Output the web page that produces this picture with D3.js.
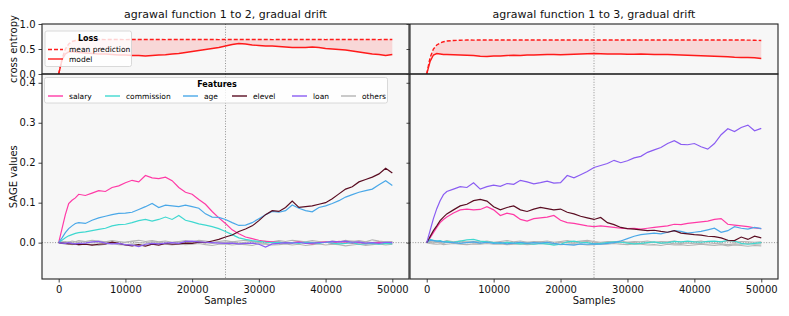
<!DOCTYPE html>
<html>
<head>
<meta charset="utf-8">
<script src="https://cdn.jsdelivr.net/npm/d3@7"></script>
<style>
  body { margin: 0; background: #fff; }
  svg text { font-family: "DejaVu Sans", sans-serif; }
</style>
</head>
<body>
<svg id="chart" width="789" height="316"></svg>
<script>
// sample positions shared by every series
var samples = [0, 500, 1000, 1500, 2000, 2500, 3000, 4000, 5000, 6000, 7000, 8000, 9000, 10000,
  11000, 12000, 13000, 14000, 15000, 16000, 17000, 18000, 19000, 20000, 21000, 22000, 23000, 24000,
  25000, 26000, 27000, 28000, 29000, 30000, 31000, 32000, 33000, 34000, 35000, 36000, 37000, 38000,
  39000, 40000, 41000, 42000, 43000, 44000, 45000, 46000, 47000, 48000, 49000, 50000];

var titles = ["agrawal function 1 to 2, gradual drift", "agrawal function 1 to 3, gradual drift"];
var featureNames = ["salary", "commission", "age", "elevel", "loan", "others"];
var featureColors = ["#ff3aa6", "#3fd8d0", "#4aa8e8", "#5a0d22", "#8a5cf2", "#b4b4b4"];
var xTicks = [0, 10000, 20000, 30000, 40000, 50000];
var lossTicks = [0, 0.5, 1.0];
var sageTicks = [0, 0.1, 0.2, 0.3, 0.4];
var driftPoint = 25000;

// ---- loss, function 1 to 2
var lossMean12 = [0, 0.30, 0.50, 0.60, 0.65, 0.67, 0.68, 0.685, 0.688, 0.69, 0.688, 0.69, 0.69, 0.688,
  0.69, 0.69, 0.689, 0.69, 0.69, 0.688, 0.69, 0.69, 0.69, 0.689, 0.69, 0.69, 0.69, 0.688,
  0.69, 0.69, 0.69, 0.689, 0.69, 0.69, 0.69, 0.688, 0.69, 0.69, 0.69, 0.689, 0.69, 0.69,
  0.69, 0.688, 0.69, 0.69, 0.69, 0.689, 0.69, 0.69, 0.69, 0.688, 0.69, 0.69];
var lossModel12 = [0, 0.28, 0.40, 0.44, 0.45, 0.44, 0.43, 0.42, 0.41, 0.40, 0.40, 0.39, 0.38, 0.38,
  0.37, 0.37, 0.36, 0.37, 0.38, 0.385, 0.40, 0.41, 0.43, 0.45, 0.47, 0.49, 0.51, 0.53,
  0.56, 0.59, 0.61, 0.60, 0.58, 0.57, 0.56, 0.56, 0.55, 0.54, 0.53, 0.53, 0.53, 0.54,
  0.53, 0.51, 0.50, 0.49, 0.48, 0.46, 0.44, 0.42, 0.40, 0.39, 0.37, 0.39];

// ---- loss, function 1 to 3
var lossMean13 = [0, 0.33, 0.50, 0.58, 0.62, 0.645, 0.66, 0.67, 0.675, 0.68, 0.678, 0.68, 0.68, 0.681,
  0.68, 0.679, 0.68, 0.68, 0.681, 0.68, 0.68, 0.679, 0.68, 0.68, 0.68, 0.681, 0.68, 0.679,
  0.68, 0.68, 0.681, 0.68, 0.68, 0.679, 0.68, 0.68, 0.681, 0.68, 0.68, 0.679, 0.68, 0.68,
  0.681, 0.68, 0.68, 0.679, 0.68, 0.68, 0.68, 0.679, 0.68, 0.678, 0.675, 0.67];
var lossModel13 = [0, 0.25, 0.38, 0.41, 0.40, 0.39, 0.39, 0.385, 0.38, 0.375, 0.37, 0.355, 0.35, 0.36,
  0.36, 0.37, 0.375, 0.37, 0.38, 0.38, 0.385, 0.39, 0.39, 0.385, 0.39, 0.395, 0.40, 0.405,
  0.41, 0.405, 0.40, 0.40, 0.40, 0.395, 0.395, 0.40, 0.395, 0.39, 0.39, 0.39, 0.385, 0.38,
  0.375, 0.37, 0.365, 0.36, 0.355, 0.35, 0.345, 0.335, 0.33, 0.33, 0.325, 0.31];

// ---- SAGE values, function 1 to 2
var salary12 = [0, 0.035, 0.07, 0.098, 0.106, 0.112, 0.121, 0.118, 0.124, 0.13, 0.128, 0.138, 0.142, 0.15,
  0.156, 0.152, 0.168, 0.162, 0.16, 0.164, 0.155, 0.138, 0.126, 0.121, 0.108, 0.096, 0.078, 0.062,
  0.048, 0.032, 0.022, 0.014, 0.01, 0.006, 0.003, 0.002, 0.001, -0.002, 0, 0.002, -0.001, -0.003,
  0, 0.002, -0.002, 0.003, 0.001, -0.002, 0, -0.003, -0.001, 0.001, -0.002, -0.001];
var commission12 = [0, 0.006, 0.012, 0.017, 0.02, 0.023, 0.025, 0.027, 0.03, 0.033, 0.036, 0.042, 0.045, 0.046,
  0.05, 0.055, 0.058, 0.054, 0.058, 0.064, 0.058, 0.068, 0.056, 0.052, 0.047, 0.044, 0.04, 0.035,
  0.028, 0.02, 0.012, 0.008, 0.005, 0.003, 0.001, 0, 0.001, -0.001, 0, -0.002, 0.001, 0,
  -0.002, 0.001, -0.001, -0.003, -0.002, 0, -0.004, -0.003, -0.002, -0.004, -0.002, -0.003];
var age12 = [0, 0.012, 0.025, 0.035, 0.042, 0.048, 0.05, 0.048, 0.056, 0.062, 0.066, 0.07, 0.073, 0.074,
  0.076, 0.083, 0.09, 0.098, 0.088, 0.094, 0.092, 0.09, 0.094, 0.09, 0.086, 0.072, 0.064, 0.063,
  0.058, 0.05, 0.043, 0.044, 0.05, 0.06, 0.07, 0.078, 0.076, 0.08, 0.094, 0.086, 0.08, 0.077,
  0.088, 0.092, 0.098, 0.105, 0.114, 0.12, 0.126, 0.13, 0.134, 0.145, 0.155, 0.143];
var elevel12 = [0, -0.001, -0.002, -0.003, -0.003, -0.004, -0.005, -0.004, -0.006, -0.004, -0.003, 0.001, -0.002, -0.006,
  -0.008, -0.005, -0.009, -0.004, -0.006, -0.002, -0.004, -0.003, -0.001, -0.002, 0.001, 0, 0.004, 0.008,
  0.014, 0.019, 0.028, 0.034, 0.042, 0.055, 0.07, 0.08, 0.078, 0.088, 0.104, 0.088, 0.09, 0.092,
  0.096, 0.1, 0.11, 0.122, 0.134, 0.14, 0.152, 0.158, 0.164, 0.172, 0.186, 0.174];
var loan12 = [0, -0.001, -0.002, 0, -0.002, -0.003, -0.002, -0.001, 0.002, 0.003, -0.001, -0.003, -0.002, -0.005,
  -0.006, -0.01, -0.004, -0.002, -0.003, -0.001, 0, -0.002, 0.003, 0.004, 0.002, 0.001, 0, -0.001,
  -0.002, -0.001, -0.003, -0.002, -0.001, -0.004, -0.011, -0.003, -0.002, 0, -0.001, 0.001, -0.002, -0.001,
  0, 0.001, 0.003, 0.002, 0.004, 0.001, 0.002, -0.001, 0, -0.002, 0.001, 0];
var otherA12 = [0, 0.002, 0.003, 0.001, 0.004, 0.002, 0.005, 0.003, 0.006, 0.004, 0.002, 0.005, 0.003, 0.001,
  0.004, 0.006, 0.003, 0.005, 0.002, 0.004, 0.001, 0.003, 0.005, 0.002, 0.006, 0.004, 0.001, 0.003,
  0.005, 0.002, 0.004, 0.006, 0.003, 0.001, 0.004, 0.002, 0.005, 0.003, 0.006, 0.004, 0.002, 0.005,
  0.003, 0.001, 0.004, 0.002, 0.006, 0.003, 0.005, 0.002, 0.007, 0.004, 0.002, 0.003];
var otherB12 = [0, -0.002, -0.004, -0.003, -0.005, -0.004, -0.006, -0.003, -0.005, -0.007, -0.004, -0.002, -0.005, -0.006,
  -0.003, -0.005, -0.007, -0.004, -0.002, -0.004, -0.006, -0.003, -0.005, -0.004, -0.002, -0.005, -0.007, -0.004,
  -0.003, -0.006, -0.004, -0.005, -0.007, -0.003, -0.004, -0.006, -0.005, -0.003, -0.006, -0.004, -0.007, -0.005,
  -0.003, -0.006, -0.004, -0.005, -0.008, -0.006, -0.004, -0.007, -0.005, -0.003, -0.006, -0.004];
var otherC12 = [0, 0.001, -0.001, 0.002, 0, -0.002, 0.001, 0.003, 0, -0.001, 0.002, 0, -0.002, 0.001,
  0.003, 0, -0.001, 0.002, 0.001, -0.002, 0, 0.002, -0.001, 0.001, 0.003, 0, -0.002, 0.001,
  0, 0.002, -0.001, 0.001, 0.003, 0, -0.002, 0.001, 0.002, -0.001, 0, 0.003, 0.001, -0.002,
  0, 0.002, 0.001, -0.001, 0.003, 0.004, 0.001, 0.002, 0, 0.003, 0.001, 0.002];

// ---- SAGE values, function 1 to 3
var salary13 = [0, 0.012, 0.025, 0.038, 0.05, 0.058, 0.064, 0.074, 0.082, 0.084, 0.082, 0.083, 0.09, 0.082,
  0.068, 0.074, 0.07, 0.058, 0.054, 0.06, 0.062, 0.064, 0.068, 0.056, 0.05, 0.048, 0.045, 0.042,
  0.04, 0.042, 0.04, 0.038, 0.036, 0.035, 0.036, 0.034, 0.036, 0.038, 0.04, 0.042, 0.046, 0.045,
  0.048, 0.05, 0.052, 0.054, 0.058, 0.06, 0.046, 0.044, 0.042, 0.04, 0.037, 0.035];
var commission13 = [0, 0.008, 0.006, 0.004, 0.005, 0.002, 0.003, 0.001, 0.004, 0.007, 0.008, 0.004, 0.002, 0,
  -0.002, 0.001, -0.001, -0.003, -0.002, -0.004, -0.002, -0.003, -0.006, -0.004, 0.002, 0.004, 0.001, 0,
  -0.003, -0.002, 0, 0.002, 0.001, -0.001, -0.003, -0.002, 0, 0.002, -0.001, 0, 0.003, 0.002,
  0.004, 0.002, 0.001, 0.003, 0.004, 0.002, 0.006, 0.004, -0.002, -0.004, -0.002, 0];
var age13 = [0, 0.006, 0.005, 0.004, 0.003, 0.002, 0.001, 0, -0.002, 0, 0.002, -0.001, 0.001, -0.002,
  0, -0.003, -0.001, 0.001, -0.002, 0, -0.001, 0.001, -0.002, -0.004, -0.005, -0.006, -0.003, -0.004,
  -0.003, -0.004, -0.002, 0, 0.004, 0.01, 0.016, 0.02, 0.022, 0.024, 0.022, 0.026, 0.03, 0.028,
  0.024, 0.026, 0.028, 0.032, 0.036, 0.026, 0.03, 0.04, 0.036, 0.034, 0.038, 0.035];
var elevel13 = [0, 0.015, 0.03, 0.042, 0.055, 0.064, 0.072, 0.082, 0.092, 0.096, 0.105, 0.108, 0.104, 0.09,
  0.082, 0.088, 0.092, 0.082, 0.078, 0.084, 0.088, 0.085, 0.082, 0.084, 0.076, 0.072, 0.066, 0.062,
  0.058, 0.063, 0.05, 0.045, 0.038, 0.035, 0.034, 0.032, 0.03, 0.031, 0.028, 0.026, 0.03, 0.024,
  0.022, 0.02, 0.019, 0.016, 0.015, 0.012, 0.006, 0.005, 0.014, 0.008, 0.016, 0.012];
var loan13 = [0, 0.03, 0.06, 0.085, 0.105, 0.12, 0.128, 0.134, 0.14, 0.138, 0.15, 0.134, 0.14, 0.144,
  0.141, 0.148, 0.146, 0.156, 0.152, 0.147, 0.15, 0.154, 0.149, 0.15, 0.168, 0.162, 0.17, 0.178,
  0.188, 0.193, 0.198, 0.206, 0.2, 0.205, 0.212, 0.216, 0.226, 0.232, 0.238, 0.248, 0.255, 0.246,
  0.245, 0.248, 0.24, 0.234, 0.248, 0.27, 0.285, 0.278, 0.288, 0.294, 0.28, 0.286];
var otherA13 = [0, 0.003, 0.002, 0.004, 0.001, 0.003, 0.005, 0.002, 0.004, 0.001, 0.003, 0.002, 0.004, 0.001,
  0.003, 0.005, 0.002, 0.004, 0.001, 0.003, 0.002, 0.004, 0.001, 0.003, 0.005, 0.002, 0.004, 0.006,
  0.003, 0.001, 0.003, 0.002, 0.004, 0.001, 0.003, 0.002, 0.004, 0.001, 0.003, 0.002, 0.004, 0.001,
  0.003, 0.002, 0.004, 0.001, 0.003, 0.002, 0.004, 0.001, 0.003, 0.002, 0.001, 0.002];
var otherB13 = [0, -0.002, -0.003, -0.004, -0.003, -0.005, -0.004, -0.002, -0.004, -0.005, -0.003, -0.004, -0.002, -0.004,
  -0.003, -0.005, -0.004, -0.003, -0.005, -0.004, -0.002, -0.004, -0.003, -0.005, -0.004, -0.003, -0.004, -0.006,
  -0.005, -0.003, -0.004, -0.002, -0.004, -0.005, -0.003, -0.004, -0.006, -0.005, -0.007, -0.004, -0.006, -0.005,
  -0.007, -0.006, -0.004, -0.006, -0.007, -0.005, -0.008, -0.006, -0.007, -0.009, -0.007, -0.008];
var otherC13 = [0, 0.001, -0.001, 0.001, 0, -0.002, 0.001, 0, -0.001, 0.002, 0, -0.002, 0.001, 0,
  -0.001, 0.001, -0.002, 0, 0.001, -0.001, 0.002, 0, -0.002, 0.001, 0, -0.001, 0.002, 0.003,
  0.001, -0.001, 0, 0.002, -0.001, 0.001, 0, -0.002, -0.001, 0.001, -0.002, 0, -0.003, -0.002,
  -0.001, -0.003, -0.002, -0.004, -0.002, -0.003, -0.005, -0.003, -0.004, -0.002, -0.004, -0.003];

var svg = d3.select("#chart");

var layout = {
  top: 24, mid: 74, bottom: 279,
  panels: [{ left: 42, right: 409 }, { left: 410, right: 778 }]
};

var datasets = [
  {
    mean: lossMean12, model: lossModel12,
    features: [salary12, commission12, age12, elevel12, loan12],
    others: [otherA12, otherB12, otherC12]
  },
  {
    mean: lossMean13, model: lossModel13,
    features: [salary13, commission13, age13, elevel13, loan13],
    others: [otherA13, otherB13, otherC13]
  }
];

function drawPanel(idx) {
  var p = layout.panels[idx];
  var d = datasets[idx];
  var showLabels = idx === 0;

  var x = d3.scaleLinear().domain([-2500, 52500]).range([p.left, p.right]);
  var yLoss = d3.scaleLinear().domain([0, 1]).range([layout.mid, layout.top]);
  var ySage = d3.scaleLinear().domain([-0.091, 0.422]).range([layout.bottom, layout.mid]);

  var g = svg.append("g");

  // backgrounds
  g.append("rect").attr("x", p.left).attr("y", layout.top)
    .attr("width", p.right - p.left).attr("height", layout.mid - layout.top).attr("fill", "#f7f7f7");
  g.append("rect").attr("x", p.left).attr("y", layout.mid)
    .attr("width", p.right - p.left).attr("height", layout.bottom - layout.mid).attr("fill", "#f7f7f7");

  // clip paths
  svg.append("clipPath").attr("id", "clipTop" + idx).append("rect")
    .attr("x", p.left).attr("y", layout.top).attr("width", p.right - p.left).attr("height", layout.mid - layout.top);
  svg.append("clipPath").attr("id", "clipBot" + idx).append("rect")
    .attr("x", p.left).attr("y", layout.mid).attr("width", p.right - p.left).attr("height", layout.bottom - layout.mid);

  var top = g.append("g").attr("clip-path", "url(#clipTop" + idx + ")");
  var bot = g.append("g").attr("clip-path", "url(#clipBot" + idx + ")");

  // drift markers
  top.append("line").attr("x1", x(driftPoint)).attr("x2", x(driftPoint))
    .attr("y1", layout.top).attr("y2", layout.mid)
    .attr("stroke", "#888").attr("stroke-width", 0.9).attr("stroke-dasharray", "1,1.6");
  bot.append("line").attr("x1", x(driftPoint)).attr("x2", x(driftPoint))
    .attr("y1", layout.mid).attr("y2", layout.bottom)
    .attr("stroke", "#888").attr("stroke-width", 0.9).attr("stroke-dasharray", "1,1.6");
  bot.append("line").attr("x1", p.left).attr("x2", p.right)
    .attr("y1", ySage(0)).attr("y2", ySage(0))
    .attr("stroke", "#888").attr("stroke-width", 0.9).attr("stroke-dasharray", "1,1.6");

  // loss
  var area = d3.area()
    .x(function (v, i) { return x(samples[i]); })
    .y0(function (v, i) { return yLoss(d.model[i]); })
    .y1(function (v, i) { return yLoss(d.mean[i]); });
  top.append("path").datum(d.mean).attr("d", area).attr("fill", "#ff0000").attr("fill-opacity", 0.13);

  var lossLine = d3.line()
    .x(function (v, i) { return x(samples[i]); })
    .y(function (v) { return yLoss(v); });
  top.append("path").datum(d.mean).attr("d", lossLine).attr("fill", "none")
    .attr("stroke", "#ff1a1a").attr("stroke-width", 1.4).attr("stroke-dasharray", "4,2");
  top.append("path").datum(d.model).attr("d", lossLine).attr("fill", "none")
    .attr("stroke", "#ff1a1a").attr("stroke-width", 1.4);

  // SAGE values
  var sageLine = d3.line()
    .x(function (v, i) { return x(samples[i]); })
    .y(function (v) { return ySage(v); });
  d.others.forEach(function (s) {
    bot.append("path").datum(s).attr("d", sageLine).attr("fill", "none")
      .attr("stroke", featureColors[5]).attr("stroke-width", 1.1);
  });
  d.features.forEach(function (s, k) {
    bot.append("path").datum(s).attr("d", sageLine).attr("fill", "none")
      .attr("stroke", featureColors[k]).attr("stroke-width", 1.2);
  });

  // axes
  var yLossAxis = d3.axisLeft(yLoss).tickValues(lossTicks).tickSize(3.5).tickPadding(3)
    .tickFormat(showLabels ? d3.format(".1f") : "");
  var ySageAxis = d3.axisLeft(ySage).tickValues(sageTicks).tickSize(3.5).tickPadding(3)
    .tickFormat(showLabels ? d3.format(".1f") : "");
  var xAxis = d3.axisBottom(x).tickValues(xTicks).tickSize(3.5).tickPadding(3).tickFormat(d3.format("d"));

  [
    g.append("g").attr("transform", "translate(" + p.left + ",0)").call(yLossAxis),
    g.append("g").attr("transform", "translate(" + p.left + ",0)").call(ySageAxis),
    g.append("g").attr("transform", "translate(0," + layout.bottom + ")").call(xAxis)
  ].forEach(function (ax) {
    ax.select(".domain").remove();
    ax.selectAll(".tick line").attr("stroke", "#333").attr("stroke-width", 0.9);
    ax.selectAll(".tick text").attr("fill", "#111").style("font-size", "10px");
  });

  // frames
  g.append("rect").attr("x", p.left).attr("y", layout.top)
    .attr("width", p.right - p.left).attr("height", layout.mid - layout.top)
    .attr("fill", "none").attr("stroke", "#222").attr("stroke-width", 1.1);
  g.append("rect").attr("x", p.left).attr("y", layout.mid)
    .attr("width", p.right - p.left).attr("height", layout.bottom - layout.mid)
    .attr("fill", "none").attr("stroke", "#222").attr("stroke-width", 1.1);

  // title & labels
  svg.append("text").attr("x", (p.left + p.right) / 2).attr("y", 18)
    .attr("text-anchor", "middle").style("font-size", "11px").attr("fill", "#111")
    .text(titles[idx]);
  svg.append("text").attr("x", (p.left + p.right) / 2).attr("y", 304)
    .attr("text-anchor", "middle").style("font-size", "10px").attr("fill", "#111")
    .text("Samples");

  if (showLabels) {
    svg.append("text").attr("transform", "translate(17," + ((layout.top + layout.mid) / 2) + ") rotate(-90)")
      .attr("text-anchor", "middle").style("font-size", "10px").attr("fill", "#111").text("cross entropy");
    svg.append("text").attr("transform", "translate(17," + ySage(0.165) + ") rotate(-90)")
      .attr("text-anchor", "middle").style("font-size", "10px").attr("fill", "#111").text("SAGE values");
    drawLegends();
  }
}

function drawLegends() {
  // Loss legend
  var lg = svg.append("g");
  lg.append("rect").attr("x", 45).attr("y", 31).attr("width", 86.5).attr("height", 35.5)
    .attr("rx", 2).attr("fill", "#fff").attr("fill-opacity", 0.8)
    .attr("stroke", "#d0d0d0").attr("stroke-width", 0.8);
  lg.append("text").attr("x", 88).attr("y", 40.5).attr("text-anchor", "middle")
    .style("font-size", "8px").style("font-weight", "bold").text("Loss");
  lg.append("line").attr("x1", 48).attr("x2", 63).attr("y1", 49.5).attr("y2", 49.5)
    .attr("stroke", "#ff1a1a").attr("stroke-width", 1.4).attr("stroke-dasharray", "4,2");
  lg.append("text").attr("x", 69).attr("y", 52.3).style("font-size", "7.5px").text("mean prediction");
  lg.append("line").attr("x1", 48).attr("x2", 63).attr("y1", 59).attr("y2", 59)
    .attr("stroke", "#ff1a1a").attr("stroke-width", 1.4);
  lg.append("text").attr("x", 69).attr("y", 61.8).style("font-size", "7.5px").text("model");

  // Features legend
  var fg = svg.append("g");
  fg.append("rect").attr("x", 44.5).attr("y", 77.5).attr("width", 343).attr("height", 25.5)
    .attr("rx", 2).attr("fill", "#fff").attr("fill-opacity", 0.8)
    .attr("stroke", "#d0d0d0").attr("stroke-width", 0.8);
  fg.append("text").attr("x", 217).attr("y", 87).attr("text-anchor", "middle")
    .style("font-size", "8px").style("font-weight", "bold").text("Features");
  var handleX = [48, 105, 183, 232, 292, 341];
  featureNames.forEach(function (name, k) {
    fg.append("line").attr("x1", handleX[k]).attr("x2", handleX[k] + 15)
      .attr("y1", 96).attr("y2", 96)
      .attr("stroke", featureColors[k]).attr("stroke-width", 1.4);
    fg.append("text").attr("x", handleX[k] + 21).attr("y", 98.8)
      .style("font-size", "7.5px").text(name);
  });
}

drawPanel(0);
drawPanel(1);
</script>
</body>
</html>
